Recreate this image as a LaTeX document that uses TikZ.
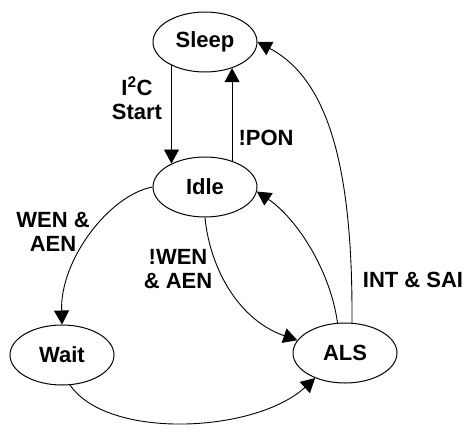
\documentclass[tikz,border=0pt]{standalone}
\usepackage{fontspec}
\setmainfont{Liberation Sans}
\usetikzlibrary{shapes.geometric,arrows.meta}
\begin{document}
\begin{tikzpicture}[
    x=1pt,y=-1pt,
    every node/.style={font=\fontsize{22}{24}\selectfont\bfseries},
    state/.style={ellipse,draw,line width=1pt,minimum width=104pt,minimum height=60pt,inner sep=0pt},
    tlabel/.style={align=center,inner sep=0pt},
    trans/.style={-{Triangle[length=14pt,width=15pt]},line width=0.9pt}
    ]
  \useasboundingbox (0,0) rectangle (468,434);
	\node [state] (sleep) at (205,42) {Sleep};
	\node [state] (idle) at (205,187) {Idle};
	\node [state] (wait) at (62,355) {Wait};
	\node [state] (als) at (345,353) {ALS};

	\draw [trans] (sleep.-145) -- (idle.145);
	\draw [trans] (idle.44) -- (sleep.-44);
	\draw [trans] (idle.west) .. controls +(-43,8) and +(-2,-65) .. (wait.north);
	\draw [trans] (idle.south) .. controls +(5,52) and +(-58,-20) .. (als.165);
	\draw [trans] (wait.-75) .. controls +(38,55) and +(-60,55) .. (als.-140);
	\draw [trans] (als.104) .. controls +(-7,-52) and +(40,27) .. (idle.-5);
	\draw [trans] (als.77) .. controls +(1,-152) and +(72,38) .. (sleep.east);

	\node [tlabel] (start) at (137,98) {I\textsuperscript{2}C\\Start};
	\node [tlabel] (pon) at (266,138) {!PON};
	\node [tlabel] (wenaen) at (53,232) {WEN \&\\AEN};
	\node [tlabel] (nwenaen) at (178,269) {!WEN\\\& AEN};
	\node [tlabel] (intsai) at (413,280) {INT \& SAI};
\end{tikzpicture}
\end{document}
